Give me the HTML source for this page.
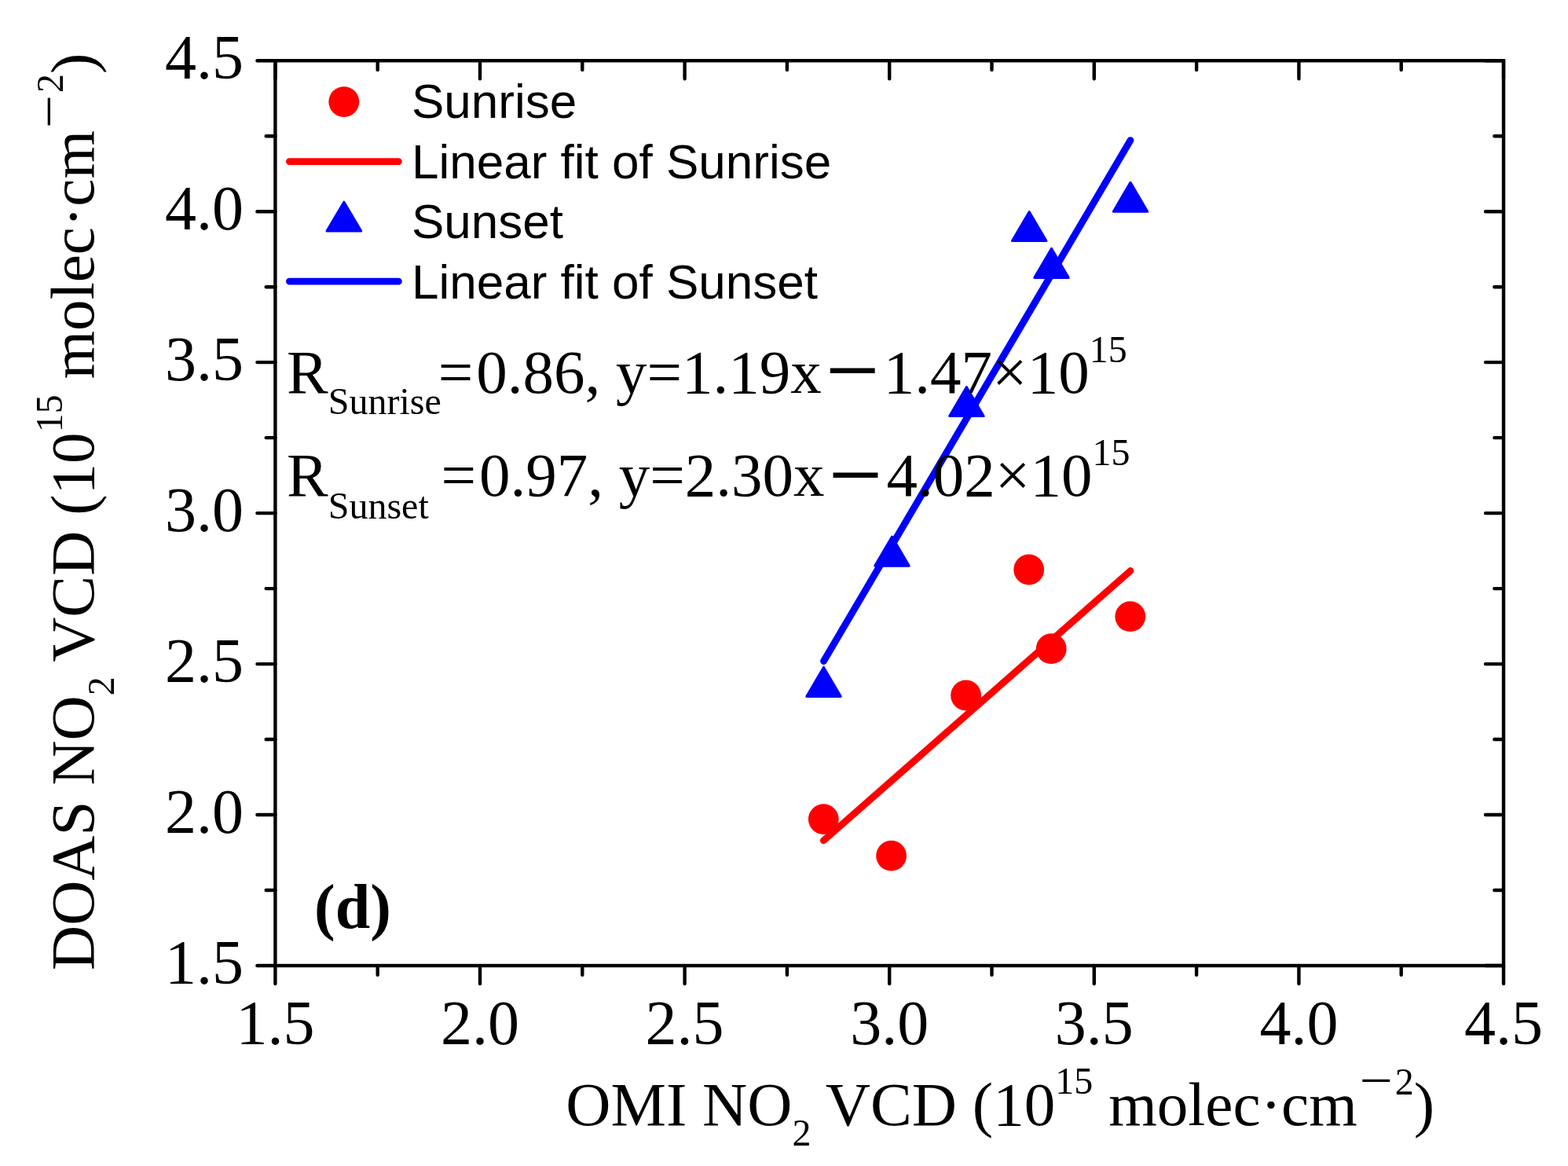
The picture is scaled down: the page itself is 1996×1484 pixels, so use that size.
<!DOCTYPE html>
<html><head><meta charset="utf-8"><style>
html,body{margin:0;padding:0;background:#fff;overflow:hidden;}
svg{display:block;}
text{fill:#000;}
.s{font-family:"Liberation Serif","Times New Roman",serif;font-size:80px;}
.t{font-family:"Liberation Serif","Times New Roman",serif;font-size:79.2px;}
.e{font-family:"Liberation Serif","Times New Roman",serif;font-size:79px;}
.sub,.sup{font-size:48px;}
.sub2,.sup2{font-size:48px;}
.d{font-family:"Liberation Sans","Noto Sans CJK SC",sans-serif;font-weight:500;}
.nm{font-family:"Liberation Sans","Noto Sans CJK SC",sans-serif;font-size:48px;}
.a{font-family:"Liberation Sans",Arial,sans-serif;font-size:62px;}
</style></head><body>
<svg width="1996" height="1484" viewBox="0 0 1996 1484">
<rect width="1996" height="1484" fill="#fff"/>
<line x1="1048.4" y1="1069.8" x2="1439" y2="726.5" stroke="#f00" stroke-width="8.8" stroke-linecap="round"/>
<line x1="1048.5" y1="841.5" x2="1439" y2="178.6" stroke="#00f" stroke-width="8.8" stroke-linecap="round"/>
<circle cx="1309.7" cy="725" r="19.4" fill="#f00"/>
<circle cx="1438.8" cy="784.7" r="19.4" fill="#f00"/>
<circle cx="1338.2" cy="825.7" r="19.4" fill="#f00"/>
<circle cx="1229.6" cy="885" r="19.4" fill="#f00"/>
<circle cx="1048.3" cy="1042.6" r="19.4" fill="#f00"/>
<circle cx="1134.6" cy="1089.2" r="19.4" fill="#f00"/>
<path d="M1439.0 232.4L1460.6 269.2H1417.4Z" fill="#00f" stroke="#00f" stroke-width="3.2" stroke-linejoin="round"/>
<path d="M1310.2 269.7L1331.8 306.5H1288.6Z" fill="#00f" stroke="#00f" stroke-width="3.2" stroke-linejoin="round"/>
<path d="M1338.5 316.5L1360.1 353.3H1316.9Z" fill="#00f" stroke="#00f" stroke-width="3.2" stroke-linejoin="round"/>
<path d="M1230.4 492.7L1252.0 529.5H1208.8Z" fill="#00f" stroke="#00f" stroke-width="3.2" stroke-linejoin="round"/>
<path d="M1135.5 683.3L1157.1 720.1H1113.9Z" fill="#00f" stroke="#00f" stroke-width="3.2" stroke-linejoin="round"/>
<path d="M1048.5 849.5L1070.1 886.3H1026.9Z" fill="#00f" stroke="#00f" stroke-width="3.2" stroke-linejoin="round"/>
<rect x="350.4" y="77.2" width="1563.6" height="1151.8" fill="none" stroke="#000" stroke-width="4.4"/>
<path d="M350.4 1229.0v23 M350.4 77.2v23 M350.4 1229.0h-23 M1914.0 1229.0h-23 M480.7 1229.0v11.7 M480.7 77.2v11.7 M350.4 1133.0h-11.7 M1914.0 1133.0h-11.7 M611.0 1229.0v23 M611.0 77.2v23 M350.4 1037.0h-23 M1914.0 1037.0h-23 M741.3 1229.0v11.7 M741.3 77.2v11.7 M350.4 941.0h-11.7 M1914.0 941.0h-11.7 M871.6 1229.0v23 M871.6 77.2v23 M350.4 845.1h-23 M1914.0 845.1h-23 M1001.9 1229.0v11.7 M1001.9 77.2v11.7 M350.4 749.1h-11.7 M1914.0 749.1h-11.7 M1132.2 1229.0v23 M1132.2 77.2v23 M350.4 653.1h-23 M1914.0 653.1h-23 M1262.5 1229.0v11.7 M1262.5 77.2v11.7 M350.4 557.1h-11.7 M1914.0 557.1h-11.7 M1392.8 1229.0v23 M1392.8 77.2v23 M350.4 461.1h-23 M1914.0 461.1h-23 M1523.1 1229.0v11.7 M1523.1 77.2v11.7 M350.4 365.2h-11.7 M1914.0 365.2h-11.7 M1653.4 1229.0v23 M1653.4 77.2v23 M350.4 269.2h-23 M1914.0 269.2h-23 M1783.7 1229.0v11.7 M1783.7 77.2v11.7 M350.4 173.2h-11.7 M1914.0 173.2h-11.7 M1914.0 1229.0v23 M1914.0 77.2v23 M350.4 77.2h-23 M1914.0 77.2h-23" stroke="#000" stroke-width="4.4" stroke-linecap="round" fill="none"/>
<text x="350.4" y="1329" text-anchor="middle" class="s">1.5</text>
<text x="310" y="1251.8" text-anchor="end" class="s">1.5</text>
<text x="611.0" y="1329" text-anchor="middle" class="s">2.0</text>
<text x="310" y="1059.8" text-anchor="end" class="s">2.0</text>
<text x="871.6" y="1329" text-anchor="middle" class="s">2.5</text>
<text x="310" y="867.9" text-anchor="end" class="s">2.5</text>
<text x="1132.2" y="1329" text-anchor="middle" class="s">3.0</text>
<text x="310" y="675.9" text-anchor="end" class="s">3.0</text>
<text x="1392.8" y="1329" text-anchor="middle" class="s">3.5</text>
<text x="310" y="483.9" text-anchor="end" class="s">3.5</text>
<text x="1653.4" y="1329" text-anchor="middle" class="s">4.0</text>
<text x="310" y="292.0" text-anchor="end" class="s">4.0</text>
<text x="1914.0" y="1329" text-anchor="middle" class="s">4.5</text>
<text x="310" y="100.0" text-anchor="end" class="s">4.5</text>
<circle cx="437.8" cy="129.6" r="19.45" fill="#f00"/>
<line x1="368.4" y1="205.6" x2="507.4" y2="205.6" stroke="#f00" stroke-width="8.8" stroke-linecap="round"/>
<path d="M437.9 257.3L459.6 294.0H416.1Z" fill="#00f" stroke="#00f" stroke-width="3.2" stroke-linejoin="round"/>
<line x1="368.4" y1="358.1" x2="507.4" y2="358.1" stroke="#00f" stroke-width="8.8" stroke-linecap="round"/>
<text x="524" y="150.3" class="a">Sunrise</text>
<text x="524" y="226.8" class="a">Linear fit of Sunrise</text>
<text x="524" y="303.3" class="a">Sunset</text>
<text x="524" y="379.8" class="a">Linear fit of Sunset</text>
<text x="365" y="499.5" class="e">R<tspan class="sub" dy="27">Sunrise</tspan><tspan dy="-27" dx="-4">=</tspan><tspan dx="4">0.86, y=1.19x</tspan><tspan class="d" dy="2.5">－</tspan><tspan dy="-2.5">1.47×10</tspan><tspan class="sup" dy="-39">15</tspan></text>
<text x="365" y="631.1" class="e">R<tspan class="sub" dy="29">Sunset</tspan><tspan dy="-29"> </tspan><tspan dx="-4">=</tspan><tspan dx="4">0.97, y=2.30x</tspan><tspan class="d" dy="3.5">－</tspan><tspan dy="-3.5">4.02×10</tspan><tspan class="sup" dy="-39">15</tspan></text>
<text x="400" y="1180.5" class="s" font-weight="bold">(d)</text>
<text x="720.3" y="1432.2" class="t">OMI NO<tspan class="sub2" dy="26">2</tspan><tspan dy="-26"> VCD (10</tspan><tspan class="sup2" dy="-40">15</tspan><tspan dy="40"> molec·cm</tspan><tspan class="nm" dy="-39">－</tspan><tspan class="sup2">2</tspan><tspan dy="39">)</tspan></text>
<text transform="translate(119 1235) rotate(-90)" class="t">DOAS NO<tspan class="sub2" dy="26">2</tspan><tspan dy="-26"> VCD (10</tspan><tspan class="sup2" dy="-40">15</tspan><tspan dy="40"> molec·cm</tspan><tspan class="nm" dy="-39">－</tspan><tspan class="sup2">2</tspan><tspan dy="39">)</tspan></text>
</svg></body></html>
